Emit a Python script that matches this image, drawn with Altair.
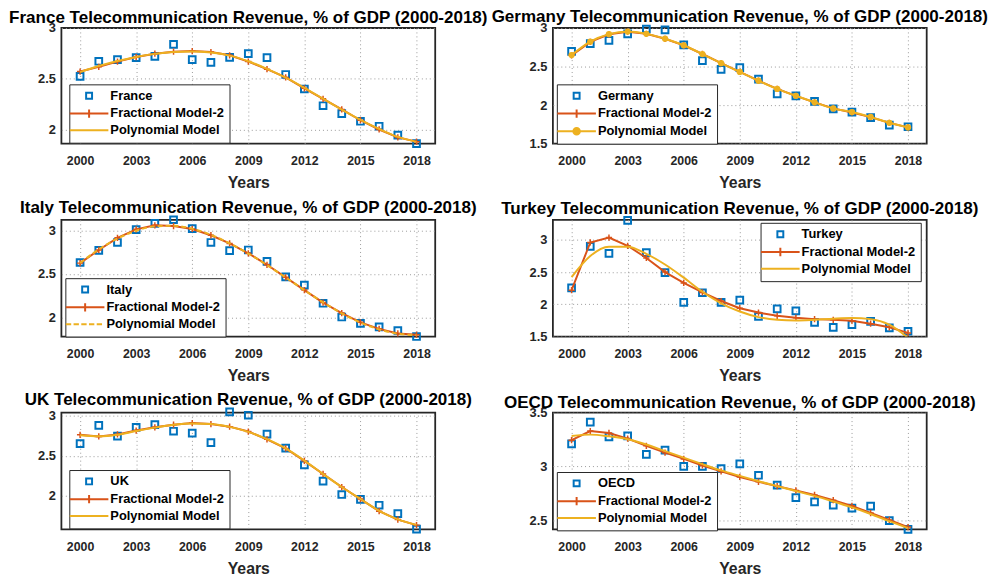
import altair as alt
import pandas as pd

YEARS = list(range(2000, 2019))
X_TICKS = [2000, 2003, 2006, 2009, 2012, 2015, 2018]

FRANCE_DATA = [2.523, 2.672, 2.688, 2.708, 2.721, 2.838, 2.688, 2.662, 2.711, 2.747, 2.708, 2.542, 2.399, 2.234, 2.156, 2.081, 2.032, 1.945, 1.860]
FRANCE_FRAC = [2.571, 2.617, 2.669, 2.714, 2.747, 2.766, 2.773, 2.763, 2.731, 2.669, 2.594, 2.513, 2.406, 2.302, 2.198, 2.091, 2.000, 1.922, 1.880]
FRANCE_POLY = [2.565, 2.625, 2.675, 2.715, 2.745, 2.763, 2.768, 2.758, 2.728, 2.672, 2.597, 2.510, 2.410, 2.303, 2.196, 2.095, 2.005, 1.927, 1.878]

GERMANY_DATA = [2.696, 2.797, 2.839, 2.924, 2.987, 2.975, 2.780, 2.578, 2.463, 2.485, 2.337, 2.147, 2.121, 2.049, 1.952, 1.910, 1.838, 1.741, 1.720]
GERMANY_FRAC = [2.645, 2.820, 2.918, 2.952, 2.925, 2.860, 2.775, 2.663, 2.545, 2.431, 2.317, 2.211, 2.120, 2.036, 1.958, 1.905, 1.845, 1.770, 1.712]
GERMANY_POLY = [2.649, 2.823, 2.920, 2.954, 2.924, 2.861, 2.776, 2.662, 2.544, 2.430, 2.316, 2.210, 2.121, 2.037, 1.957, 1.910, 1.847, 1.771, 1.711]

ITALY_DATA = [2.630, 2.770, 2.860, 3.008, 3.079, 3.121, 3.019, 2.860, 2.766, 2.774, 2.642, 2.464, 2.370, 2.162, 2.004, 1.932, 1.891, 1.849, 1.780]
ITALY_FRAC = [2.623, 2.774, 2.913, 3.011, 3.057, 3.049, 3.015, 2.943, 2.849, 2.736, 2.604, 2.460, 2.313, 2.170, 2.049, 1.943, 1.868, 1.815, 1.800]
ITALY_POLY = [2.625, 2.780, 2.905, 2.995, 3.045, 3.052, 3.018, 2.948, 2.850, 2.733, 2.600, 2.458, 2.312, 2.172, 2.047, 1.940, 1.862, 1.812, 1.795]

TURKEY_DATA = [2.255, 2.898, 2.791, 3.301, 2.801, 2.490, 2.031, 2.179, 2.031, 2.066, 1.811, 1.929, 1.898, 1.719, 1.643, 1.684, 1.735, 1.633, 1.582]
TURKEY_FRAC = [2.219, 2.959, 3.036, 2.908, 2.719, 2.500, 2.332, 2.184, 2.051, 1.939, 1.872, 1.821, 1.791, 1.770, 1.760, 1.745, 1.699, 1.643, 1.556]
TURKEY_POLY = [2.423, 2.750, 2.893, 2.893, 2.781, 2.617, 2.413, 2.194, 2.015, 1.888, 1.801, 1.760, 1.750, 1.760, 1.776, 1.786, 1.770, 1.684, 1.480]

UK_DATA = [2.653, 2.882, 2.747, 2.857, 2.890, 2.808, 2.784, 2.665, 3.049, 3.008, 2.771, 2.596, 2.388, 2.184, 2.016, 1.955, 1.882, 1.776, 1.584]
UK_FRAC = [2.763, 2.743, 2.767, 2.816, 2.857, 2.890, 2.910, 2.898, 2.865, 2.804, 2.706, 2.592, 2.437, 2.273, 2.110, 1.959, 1.808, 1.702, 1.633]
UK_POLY = [2.757, 2.745, 2.765, 2.810, 2.853, 2.888, 2.905, 2.897, 2.862, 2.800, 2.708, 2.592, 2.440, 2.272, 2.110, 1.960, 1.812, 1.705, 1.636]

OECD_DATA = [3.210, 3.412, 3.274, 3.284, 3.113, 3.152, 3.000, 3.000, 2.979, 3.024, 2.918, 2.826, 2.710, 2.671, 2.640, 2.613, 2.631, 2.497, 2.415]
OECD_FRAC = [3.244, 3.329, 3.311, 3.259, 3.192, 3.128, 3.070, 3.009, 2.954, 2.902, 2.857, 2.817, 2.777, 2.735, 2.686, 2.634, 2.567, 2.503, 2.436]
OECD_POLY = [3.284, 3.296, 3.280, 3.253, 3.204, 3.143, 3.082, 3.021, 2.963, 2.912, 2.863, 2.817, 2.771, 2.726, 2.674, 2.619, 2.558, 2.491, 2.427]

FRAC_NAME = "Fractional Model-2"
POLY_NAME = "Polynomial Model"
BLUE, RED, YEL = "#0072BD", "#D95319", "#EDB120"
FONT = "Liberation Sans"
INK = "#262626"

PLUS = "M-1,0L1,0M0,-1L0,1"
LEG_FRAC = "M-6.5,0L6.5,0M0,-1.4L0,1.4"
LEG_POLY = "M-6.5,0L6.5,0"
LEG_POLY_DASH = "M-6.5,0L-4.7,0M-3.9,0L-2.1,0M-1.3,0L0.5,0M1.3,0L3.1,0M3.9,0L5.7,0"
LEG_POLY_DOT = "M-6.5,0L-1.1,0M1.1,0L6.5,0M1.1,0A1.1,1.1 0 1,1 -1.1,0A1.1,1.1 0 1,1 1.1,0"


def panel(country, data, frac, poly, ydom, yticks, leg_xy, height, style="plain"):
    rows = []
    for s, vals in ((country, data), (FRAC_NAME, frac), (POLY_NAME, poly)):
        for yr, v in zip(YEARS, vals):
            rows.append({"year": yr, "value": v, "series": s})
    df = pd.DataFrame(rows)
    base = alt.Chart(df)
    x = alt.X("year:Q", scale=alt.Scale(domain=[1999, 2019], nice=False, zero=False),
              axis=alt.Axis(values=X_TICKS, format="d", title="Years"))
    y = alt.Y("value:Q", scale=alt.Scale(domain=ydom, nice=False, zero=False),
              axis=alt.Axis(values=yticks, format="~g", title=None))

    squares = base.transform_filter(alt.datum.series == country).mark_point(
        shape="square", filled=False, color=BLUE, strokeWidth=2, size=46, opacity=1
    ).encode(x=x, y=y)
    frac_line = base.transform_filter(alt.datum.series == FRAC_NAME).mark_line(
        color=RED, strokeWidth=2, clip=True
    ).encode(x=x, y=y)
    frac_pts = base.transform_filter(alt.datum.series == FRAC_NAME).mark_point(
        shape=PLUS, filled=False, color=RED, strokeWidth=1.5, size=40, opacity=1
    ).encode(x=x, y=y)
    line_kw = dict(color=YEL, strokeWidth=2, clip=True, interpolate="monotone")
    if style == "dash":
        line_kw["strokeDash"] = [5, 3]
    poly_line = base.transform_filter(alt.datum.series == POLY_NAME).mark_line(**line_kw).encode(x=x, y=y)
    layers = [squares, frac_line, frac_pts, poly_line]
    if style == "dot":
        layers.append(base.transform_filter(alt.datum.series == POLY_NAME).mark_point(
            shape="circle", filled=True, color=YEL, size=40, opacity=1
        ).encode(x=x, y=y))

    dom = [country, FRAC_NAME, POLY_NAME]
    poly_sym = {"plain": LEG_POLY, "dash": LEG_POLY_DASH, "dot": LEG_POLY_DOT}[style]
    leg = alt.Legend(
        orient="none", legendX=leg_xy[0], legendY=leg_xy[1], title=None,
        strokeColor=INK, fillColor="white", padding=5, rowPadding=2,
        labelFont=FONT, labelFontSize=13, labelFontWeight="bold", labelColor="black",
        symbolOffset=8.5, labelOffset=15, symbolStrokeWidth=2, symbolSize=36,
    )
    enc = dict(
        x=x, y=y,
        stroke=alt.Stroke("series:N", scale=alt.Scale(domain=dom, range=[BLUE, RED, YEL]), legend=leg),
        shape=alt.Shape("series:N", scale=alt.Scale(domain=dom, range=["square", LEG_FRAC, poly_sym]), legend=leg),
    )
    if style == "dot":
        enc["fill"] = alt.Fill("series:N", scale=alt.Scale(domain=dom, range=["transparent", "transparent", YEL]), legend=leg)
    legend_layer = base.transform_filter("false").mark_point(filled=False, strokeWidth=2, opacity=1).encode(**enc)
    layers.append(legend_layer)

    title = alt.TitleParams(
        text=f"{country} Telecommunication Revenue, % of GDP (2000-2018)",
        font=FONT, fontSize=17.2, fontWeight="bold", color="black", anchor="middle",
        offset=-4, frame="group",
    )
    return alt.layer(*layers).properties(width=378, height=height, title=title)


panels = [
    panel("France", FRANCE_DATA, FRANCE_FRAC, FRANCE_POLY, [1.86, 3.0], [2, 2.5, 3], (8, 57), 117),
    panel("Germany", GERMANY_DATA, GERMANY_FRAC, GERMANY_POLY, [1.5, 3.0], [1.5, 2, 2.5, 3], (4, 57), 117, "dot"),
    panel("Italy", ITALY_DATA, ITALY_FRAC, ITALY_POLY, [1.78, 3.12], [2, 2.5, 3], (4, 59), 118, "dash"),
    panel("Turkey", TURKEY_DATA, TURKEY_FRAC, TURKEY_POLY, [1.5, 3.31], [1.5, 2, 2.5, 3], (210, 3), 118),
    panel("UK", UK_DATA, UK_FRAC, UK_POLY, [1.58, 3.04], [2, 2.5, 3], (8, 58), 118),
    panel("OECD", OECD_DATA, OECD_FRAC, OECD_POLY, [2.415, 3.5], [2.5, 3, 3.5], (4, 60), 118),
]

chart = alt.concat(
    *panels, columns=2, spacing={"row": 77, "column": 119}, bounds="flush"
).resolve_scale(
    x="independent", y="independent", stroke="independent", shape="independent", fill="independent"
).resolve_legend(
    stroke="independent", shape="independent", fill="independent"
).properties(
    padding={"top": -4, "left": 0, "right": 0, "bottom": 0}, background="white"
).configure_view(
    stroke=INK, strokeWidth=1.8
).configure_axis(
    labelFont=FONT, labelFontSize=12.5, labelFontWeight="bold", labelColor=INK,
    titleFont=FONT, titleFontSize=16, titleFontWeight="bold", titleColor=INK,
    grid=True, gridDash=[1, 3], gridColor="#9a9a9a", gridWidth=1,
    domain=False, ticks=False, labelPadding=6,
).configure_axisY(labelFontSize=13).configure_axisX(labelPadding=11, titlePadding=8)

chart.save("out.html", embed_options={"renderer": "svg", "actions": False})
